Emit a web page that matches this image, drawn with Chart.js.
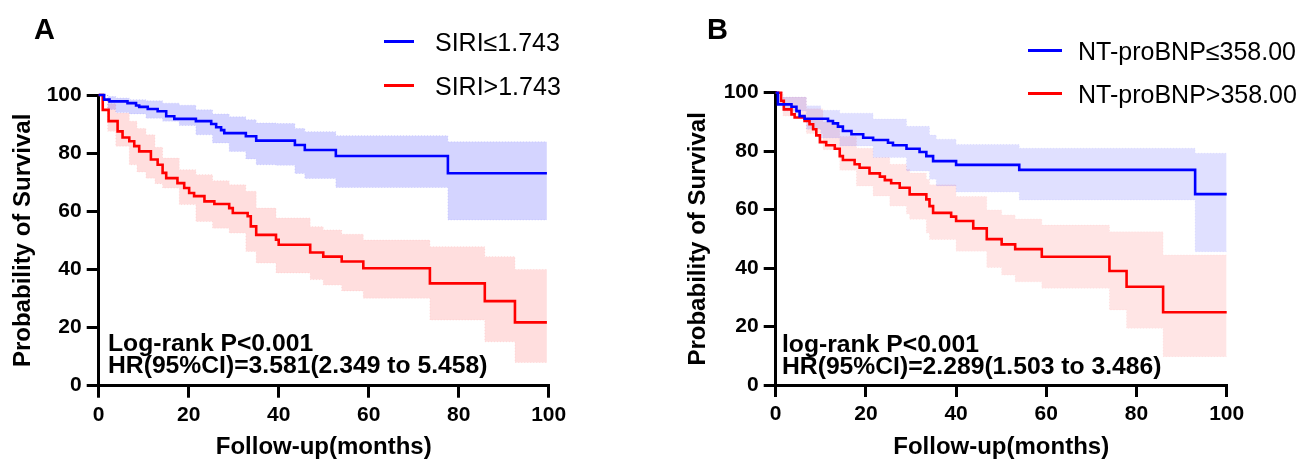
<!DOCTYPE html>
<html lang="en">
  <head>
    <meta charset="UTF-8" />
    <title>Kaplan-Meier SIRI / NT-proBNP</title>
    <script src="https://cdn.jsdelivr.net/npm/chart.js"></script>
    <style>
      body {
        margin: 0;
        background: #fff;
      }
      .wrap {
        position: relative;
        width: 1308px;
        height: 466px;
        font-family: "Liberation Sans", Arial, sans-serif;
      }
      .panel {
        position: absolute;
        top: 0;
        width: 654px;
        height: 466px;
      }
      .txt {
        position: absolute;
        line-height: 1;
        white-space: nowrap;
        color: #000;
      }
      .letter {
        font-size: 29px;
        font-weight: bold;
      }
      .note {
        font-size: 24.7px;
        font-weight: bold;
      }
      .leg {
        font-size: 25px;
      }
      .swatch {
        position: absolute;
        height: 3px;
      }
    </style>
  </head>
  <body>
    <div class="wrap">
      <div class="panel" style="left: 0"><canvas id="chartA" width="654" height="466"></canvas></div>
      <div class="panel" style="left: 654px"><canvas id="chartB" width="654" height="466"></canvas></div>

      <div class="txt letter" style="left: 34px; top: 15px">A</div>
      <div class="txt letter" style="left: 707px; top: 15px">B</div>

      <div class="swatch" style="left: 384px; top: 40px; width: 30px; background: #0000ff"></div>
      <div class="txt leg" style="left: 435px; top: 30px">SIRI≤1.743</div>
      <div class="swatch" style="left: 384px; top: 84px; width: 30px; background: #ff0000"></div>
      <div class="txt leg" style="left: 435px; top: 74px">SIRI&gt;1.743</div>

      <div class="swatch" style="left: 1028px; top: 49px; width: 34px; background: #0000ff"></div>
      <div class="txt leg" style="left: 1078px; top: 39px">NT-proBNP≤358.00</div>
      <div class="swatch" style="left: 1028px; top: 92px; width: 34px; background: #ff0000"></div>
      <div class="txt leg" style="left: 1078px; top: 82px">NT-proBNP&gt;358.00</div>

      <div class="txt note" style="left: 108px; top: 331px">Log-rank P&lt;0.001</div>
      <div class="txt note" style="left: 108px; top: 352.5px">HR(95%CI)=3.581(2.349 to 5.458)</div>
      <div class="txt note" style="left: 782px; top: 332px">log-rank P&lt;0.001</div>
      <div class="txt note" style="left: 782px; top: 353.5px">HR(95%CI)=2.289(1.503 to 3.486)</div>
    </div>

    <script>
      // ---- panel A: SIRI ----
      const aBlueT = [0, 1.2, 2.4, 6.4, 8.3, 9.0, 10.9, 13.1, 15.0, 16.8, 21.6, 25.0, 26.1, 27.2, 27.9, 32.7, 35.0, 43.6, 45.8, 52.7, 77.6, 99.6];
      const aBlueS = [100, 98.4, 97.8, 97.2, 96.4, 95.9, 95.2, 94.4, 92.7, 91.8, 91.0, 90.0, 88.9, 87.9, 86.9, 85.8, 84.3, 82.8, 81.1, 79.0, 73.1, 73.1];
      const aBlueCiT = [0, 2.0, 3.8, 6.8, 10.5, 14.2, 17.9, 21.6, 25.3, 29.0, 32.7, 35.0, 39.4, 43.6, 45.8, 52.7, 77.6, 99.6];
      const aBlueHi = [100, 99.5, 99.0, 98.4, 98.0, 97.2, 96.5, 94.9, 93.5, 92.5, 91.5, 90.4, 90.2, 88.5, 87.4, 86.0, 83.9, 83.9];
      const aBlueLo = [100, 95.0, 94.0, 93.5, 92.0, 91.0, 89.5, 86.3, 83.5, 80.6, 78.0, 76.0, 75.8, 73.0, 71.3, 68.2, 57.0, 57.0];

      const aRedT = [0, 0.9, 2.2, 4.2, 5.3, 6.8, 7.9, 9.0, 11.6, 13.1, 14.2, 15.0, 17.5, 19.0, 20.1, 21.2, 23.5, 25.7, 29.0, 29.8, 33.1, 33.8, 35.0, 39.4, 40.0, 47.0, 49.9, 54.0, 58.8, 73.6, 85.8, 92.5, 99.6];
      const aRedS = [100, 94.9, 91.0, 87.5, 85.4, 84.1, 82.4, 80.6, 77.8, 76.0, 73.2, 71.4, 69.7, 68.0, 66.3, 65.2, 63.4, 62.5, 61.1, 59.4, 58.3, 54.8, 51.9, 50.2, 48.5, 45.8, 44.4, 42.7, 40.4, 35.2, 29.1, 21.8, 21.8];
      const aRedCiT = [0, 2.0, 3.8, 6.8, 8.5, 10.5, 12.5, 14.2, 17.9, 21.6, 25.3, 29.0, 32.7, 35.0, 39.4, 47.0, 49.9, 54.0, 58.8, 73.6, 85.8, 92.5, 99.6];
      const aRedHi = [100, 97.0, 93.8, 91.0, 88.5, 86.3, 82.0, 78.3, 74.3, 72.6, 70.5, 69.1, 66.9, 61.1, 57.7, 54.7, 53.6, 52.1, 50.1, 47.8, 44.4, 40.0, 40.0];
      const aRedLo = [100, 87.5, 82.4, 76.0, 73.5, 71.4, 69.5, 68.0, 62.3, 56.5, 54.2, 52.5, 46.2, 42.2, 38.8, 36.5, 34.6, 32.6, 30.1, 22.6, 15.1, 8.0, 8.0];

      // ---- panel B: NT-proBNP ----
      const bBlueT = [0, 0.5, 3.5, 4.6, 5.3, 6.4, 11.6, 12.7, 13.8, 14.9, 16.8, 19.4, 21.6, 24.9, 26.0, 29.0, 31.9, 33.4, 34.9, 40.0, 54.0, 93.0, 100];
      const bBlueS = [100, 96.0, 95.2, 93.7, 92.0, 91.1, 90.3, 89.5, 88.4, 86.9, 85.8, 84.6, 83.8, 82.9, 82.0, 80.8, 79.7, 78.3, 76.6, 75.3, 73.6, 65.3, 65.3];
      const bBlueCiT = [0, 1.6, 6.8, 10.0, 14.2, 21.6, 29.0, 34.1, 35.6, 40.0, 54.0, 93.0, 100];
      const bBlueHi = [100, 98.5, 95.5, 94.0, 93.0, 91.0, 88.5, 85.5, 84.1, 82.3, 81.0, 79.3, 79.3];
      const bBlueLo = [100, 93.7, 87.5, 84.5, 81.8, 77.8, 73.2, 70.4, 68.1, 66.0, 63.3, 45.6, 45.6];

      const bRedT = [0, 1.2, 1.8, 3.5, 4.2, 6.4, 7.5, 8.3, 9.0, 9.8, 11.2, 13.1, 14.2, 14.9, 17.5, 18.6, 20.8, 23.1, 24.2, 25.6, 27.5, 29.7, 33.4, 34.1, 34.9, 38.9, 40.0, 43.8, 46.8, 50.1, 53.1, 59.0, 74.0, 77.8, 85.9, 100];
      const bRedS = [100, 97.2, 94.3, 92.6, 91.5, 90.3, 89.2, 87.5, 85.4, 83.1, 82.0, 80.8, 78.3, 77.0, 75.5, 74.3, 72.4, 71.3, 70.1, 69.0, 67.5, 65.2, 63.5, 61.2, 58.9, 57.6, 56.1, 53.6, 49.9, 48.1, 46.5, 43.9, 39.0, 33.6, 24.9, 24.9];
      const bRedCiT = [0, 1.6, 6.8, 10.5, 14.2, 17.9, 21.6, 25.3, 29.0, 29.7, 33.4, 34.1, 40.0, 46.8, 50.1, 53.1, 59.0, 74.0, 77.8, 85.9, 100];
      const bRedHi = [100, 98.5, 94.5, 90.0, 85.0, 81.0, 77.8, 75.5, 73.8, 72.5, 70.4, 68.5, 64.5, 59.9, 58.2, 56.8, 54.7, 52.4, 52.4, 44.5, 44.5];
      const bRedLo = [100, 92.0, 86.0, 80.5, 73.5, 68.1, 64.7, 61.2, 58.5, 56.7, 52.0, 49.8, 45.8, 40.2, 37.6, 35.3, 33.1, 25.7, 19.4, 9.7, 9.7];

      const ticks = [0, 20, 40, 60, 80, 100];

      const FONT = "'Liberation Sans', Arial, sans-serif";
      Chart.defaults.font.family = FONT;
      Chart.defaults.color = "#000";

      function pts(t, s) {
        return t.map((x, i) => ({ x: x, y: s[i] }));
      }

      function band(t, hi, lo, fillColor, edgeColor) {
        const common = {
          stepped: true,
          pointRadius: 0,
          borderWidth: 1,
          borderDash: [1, 2],
          borderColor: edgeColor,
          clip: false,
          order: 2,
        };
        return [
          Object.assign({ data: pts(t, hi), fill: false }, common),
          Object.assign({ data: pts(t, lo), fill: "-1", backgroundColor: fillColor }, common),
        ];
      }

      function curve(t, s, color) {
        return {
          data: pts(t, s),
          stepped: true,
          pointRadius: 0,
          borderWidth: 2.6,
          borderColor: color,
          fill: false,
          clip: false,
          order: 0,
        };
      }

      function makeChart(id, datasets, geo) {
        const axisFont = { family: FONT, size: 21, weight: "bold" };
        const titleFont = { family: FONT, size: 24, weight: "bold" };
        new Chart(document.getElementById(id), {
          type: "line",
          data: { datasets: datasets },
          options: {
            responsive: false,
            animation: false,
            layout: { padding: { left: 0, top: geo.top, right: geo.right, bottom: 0 } },
            plugins: { legend: { display: false }, tooltip: { enabled: false } },
            scales: {
              x: {
                type: "linear",
                min: 0,
                max: 100,
                afterBuildTicks: (s) => {
                  s.ticks = ticks.map((v) => ({ value: v }));
                },
                ticks: { font: axisFont, color: "#000", padding: 5, maxRotation: 0 },
                grid: { drawOnChartArea: false, drawTicks: true, tickLength: 12, color: "#000", lineWidth: 3 },
                border: { color: "#000", width: 3 },
                title: { display: true, text: "Follow-up(months)", font: titleFont, color: "#000", padding: { top: 0, bottom: 4 } },
                afterFit: (s) => {
                  s.height = geo.xh;
                },
              },
              y: {
                min: 0,
                max: 100,
                afterBuildTicks: (s) => {
                  s.ticks = ticks.map((v) => ({ value: v }));
                },
                ticks: { font: axisFont, color: "#000", padding: 5 },
                grid: { drawOnChartArea: false, drawTicks: true, tickLength: 12, color: "#000", lineWidth: 3 },
                border: { color: "#000", width: 3 },
                title: { display: true, text: "Probability of Survival", font: titleFont, color: "#000", padding: { top: geo.ytp, bottom: 0 } },
                afterFit: (s) => {
                  s.width = geo.yw;
                },
              },
            },
          },
        });
      }

      makeChart(
        "chartA",
        [].concat(
          band(aBlueCiT, aBlueHi, aBlueLo, "rgba(0,0,255,0.17)", "rgba(0,0,255,0.12)"),
          band(aRedCiT, aRedHi, aRedLo, "rgba(255,0,0,0.13)", "rgba(255,0,0,0.1)"),
          [curve(aBlueT, aBlueS, "#0000ff"), curve(aRedT, aRedS, "#ff0000")]
        ),
        { top: 95, right: 105.3, xh: 80.3, yw: 98.7, ytp: 9 }
      );

      makeChart(
        "chartB",
        [].concat(
          band(bBlueCiT, bBlueHi, bBlueLo, "rgba(0,0,255,0.12)", "rgba(0,0,255,0.08)"),
          band(bRedCiT, bRedHi, bRedLo, "rgba(255,0,0,0.1)", "rgba(255,0,0,0.07)"),
          [curve(bBlueT, bBlueS, "#0000ff"), curve(bRedT, bRedS, "#ff0000")]
        ),
        { top: 92.7, right: 81.3, xh: 81, yw: 121.7, ytp: 30 }
      );
    </script>
  </body>
</html>
